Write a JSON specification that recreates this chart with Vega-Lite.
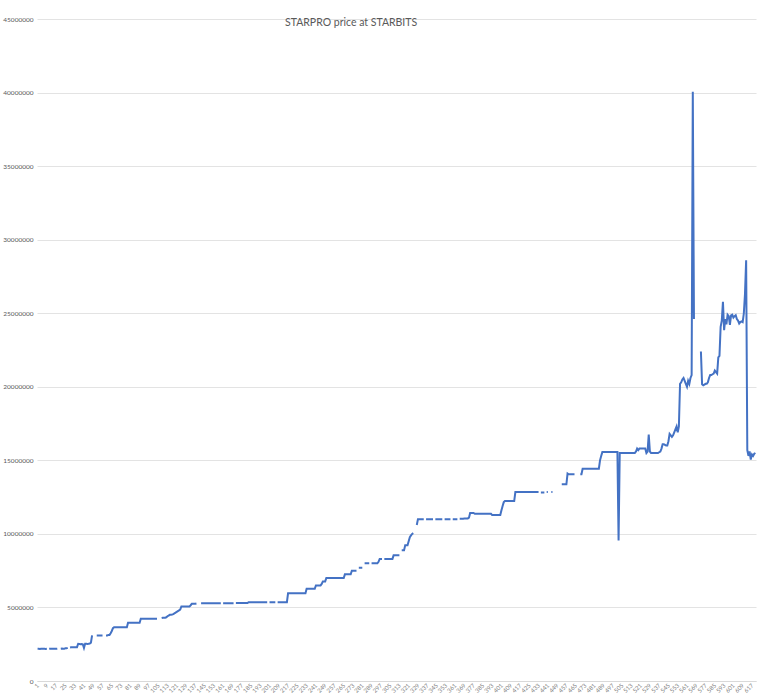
{
"$schema": "https://vega.github.io/schema/vega-lite/v6.json",
"width": 719,
"height": 662,
"autosize": {"type": "none"},
"padding": {"left": 37, "top": 19, "right": 12, "bottom": 16},
"background": "white",
"title": {"text": "STARPRO price at STARBITS", "anchor": "start", "frame": "group", "dx": 248, "offset": -12, "font": "Lato", "fontSize": 10.5, "fontWeight": "normal", "color": "#595959"},
"config": {"view": {"stroke": null}, "axis": {"labelFont": "Lato", "labelColor": "#595959"}},
"data": {"values": [
{"n":1,"p":2190000},{"n":2,"p":2190000},{"n":3,"p":2180000},{"n":4,"p":2190000},{"n":5,"p":2200000},{"n":6,"p":2190000},{"n":7,"p":2190000},{"n":8,"p":2180000},{"n":9,"p":2190000},{"n":10,"p":null},
{"n":11,"p":2190000},{"n":12,"p":2200000},{"n":13,"p":2190000},{"n":14,"p":2190000},{"n":15,"p":2200000},{"n":16,"p":2190000},{"n":17,"p":2190000},{"n":18,"p":2200000},{"n":19,"p":null},{"n":20,"p":null},
{"n":21,"p":2200000},{"n":22,"p":2210000},{"n":23,"p":2200000},{"n":24,"p":2200000},{"n":25,"p":2220000},{"n":26,"p":2220000},{"n":27,"p":2250000},{"n":28,"p":null},{"n":29,"p":2280000},{"n":30,"p":2300000},
{"n":31,"p":2300000},{"n":32,"p":2290000},{"n":33,"p":2300000},{"n":34,"p":2300000},{"n":35,"p":2300000},{"n":36,"p":2530000},{"n":37,"p":2520000},{"n":38,"p":2500000},{"n":39,"p":2520000},{"n":40,"p":2500000},
{"n":41,"p":2250000},{"n":42,"p":2530000},{"n":43,"p":2530000},{"n":44,"p":2520000},{"n":45,"p":2530000},{"n":46,"p":2550000},{"n":47,"p":2600000},{"n":48,"p":3100000},{"n":49,"p":null},{"n":50,"p":null},
{"n":51,"p":null},{"n":52,"p":3100000},{"n":53,"p":3100000},{"n":54,"p":3100000},{"n":55,"p":3100000},{"n":56,"p":3100000},{"n":57,"p":3100000},{"n":58,"p":null},{"n":59,"p":null},{"n":60,"p":3100000},
{"n":61,"p":3100000},{"n":62,"p":3120000},{"n":63,"p":3120000},{"n":64,"p":3250000},{"n":65,"p":3400000},{"n":66,"p":3590000},{"n":67,"p":3660000},{"n":68,"p":3660000},{"n":69,"p":3660000},{"n":70,"p":3660000},
{"n":71,"p":3660000},{"n":72,"p":3660000},{"n":73,"p":3660000},{"n":74,"p":3660000},{"n":75,"p":3660000},{"n":76,"p":3660000},{"n":77,"p":3660000},{"n":78,"p":3660000},{"n":79,"p":3960000},{"n":80,"p":3960000},
{"n":81,"p":3960000},{"n":82,"p":3960000},{"n":83,"p":3960000},{"n":84,"p":3960000},{"n":85,"p":3960000},{"n":86,"p":3960000},{"n":87,"p":3960000},{"n":88,"p":3960000},{"n":89,"p":3960000},{"n":90,"p":4230000},
{"n":91,"p":4230000},{"n":92,"p":4230000},{"n":93,"p":4230000},{"n":94,"p":4230000},{"n":95,"p":4230000},{"n":96,"p":4230000},{"n":97,"p":4230000},{"n":98,"p":4230000},{"n":99,"p":4230000},{"n":100,"p":4230000},
{"n":101,"p":4230000},{"n":102,"p":4230000},{"n":103,"p":4230000},{"n":104,"p":4230000},{"n":105,"p":null},{"n":106,"p":4250000},{"n":107,"p":null},{"n":108,"p":4280000},{"n":109,"p":4300000},{"n":110,"p":4300000},
{"n":111,"p":4300000},{"n":112,"p":4330000},{"n":113,"p":4400000},{"n":114,"p":4450000},{"n":115,"p":4500000},{"n":116,"p":4500000},{"n":117,"p":4520000},{"n":118,"p":4550000},{"n":119,"p":4600000},{"n":120,"p":4650000},
{"n":121,"p":4700000},{"n":122,"p":4750000},{"n":123,"p":4800000},{"n":124,"p":4850000},{"n":125,"p":5070000},{"n":126,"p":5070000},{"n":127,"p":5070000},{"n":128,"p":5070000},{"n":129,"p":5070000},{"n":130,"p":5070000},
{"n":131,"p":5070000},{"n":132,"p":5070000},{"n":133,"p":5150000},{"n":134,"p":5250000},{"n":135,"p":5250000},{"n":136,"p":5250000},{"n":137,"p":5250000},{"n":138,"p":5270000},{"n":139,"p":null},{"n":140,"p":null},
{"n":141,"p":null},{"n":142,"p":5290000},{"n":143,"p":5290000},{"n":144,"p":5290000},{"n":145,"p":5290000},{"n":146,"p":5290000},{"n":147,"p":5290000},{"n":148,"p":5290000},{"n":149,"p":5290000},{"n":150,"p":5290000},
{"n":151,"p":5290000},{"n":152,"p":5290000},{"n":153,"p":5290000},{"n":154,"p":5290000},{"n":155,"p":5290000},{"n":156,"p":5290000},{"n":157,"p":5290000},{"n":158,"p":5290000},{"n":159,"p":5290000},{"n":160,"p":null},
{"n":161,"p":5290000},{"n":162,"p":5290000},{"n":163,"p":5290000},{"n":164,"p":5290000},{"n":165,"p":5290000},{"n":166,"p":5290000},{"n":167,"p":5290000},{"n":168,"p":5290000},{"n":169,"p":5290000},{"n":170,"p":5290000},
{"n":171,"p":null},{"n":172,"p":5300000},{"n":173,"p":5300000},{"n":174,"p":5300000},{"n":175,"p":5300000},{"n":176,"p":5300000},{"n":177,"p":5300000},{"n":178,"p":5300000},{"n":179,"p":5300000},{"n":180,"p":5300000},
{"n":181,"p":5300000},{"n":182,"p":5300000},{"n":183,"p":5360000},{"n":184,"p":5360000},{"n":185,"p":5360000},{"n":186,"p":5360000},{"n":187,"p":5360000},{"n":188,"p":5360000},{"n":189,"p":5360000},{"n":190,"p":5360000},
{"n":191,"p":5360000},{"n":192,"p":5360000},{"n":193,"p":5360000},{"n":194,"p":5360000},{"n":195,"p":5360000},{"n":196,"p":5360000},{"n":197,"p":5360000},{"n":198,"p":5360000},{"n":199,"p":5360000},{"n":200,"p":null},
{"n":201,"p":5360000},{"n":202,"p":5360000},{"n":203,"p":5360000},{"n":204,"p":5360000},{"n":205,"p":5360000},{"n":206,"p":5360000},{"n":207,"p":null},{"n":208,"p":5360000},{"n":209,"p":5360000},{"n":210,"p":5360000},
{"n":211,"p":5360000},{"n":212,"p":5360000},{"n":213,"p":5360000},{"n":214,"p":5360000},{"n":215,"p":5360000},{"n":216,"p":5360000},{"n":217,"p":5970000},{"n":218,"p":5970000},{"n":219,"p":5970000},{"n":220,"p":5970000},
{"n":221,"p":5970000},{"n":222,"p":5970000},{"n":223,"p":5970000},{"n":224,"p":5970000},{"n":225,"p":5970000},{"n":226,"p":5970000},{"n":227,"p":5970000},{"n":228,"p":5970000},{"n":229,"p":5970000},{"n":230,"p":5970000},
{"n":231,"p":5970000},{"n":232,"p":5970000},{"n":233,"p":6270000},{"n":234,"p":6270000},{"n":235,"p":6270000},{"n":236,"p":6270000},{"n":237,"p":6270000},{"n":238,"p":6270000},{"n":239,"p":6270000},{"n":240,"p":6270000},
{"n":241,"p":6500000},{"n":242,"p":6500000},{"n":243,"p":6500000},{"n":244,"p":6500000},{"n":245,"p":6500000},{"n":246,"p":6600000},{"n":247,"p":6770000},{"n":248,"p":6770000},{"n":249,"p":6770000},{"n":250,"p":7000000},
{"n":251,"p":7000000},{"n":252,"p":7000000},{"n":253,"p":7000000},{"n":254,"p":7000000},{"n":255,"p":7000000},{"n":256,"p":7000000},{"n":257,"p":7000000},{"n":258,"p":7000000},{"n":259,"p":7000000},{"n":260,"p":7000000},
{"n":261,"p":7000000},{"n":262,"p":7000000},{"n":263,"p":7000000},{"n":264,"p":7000000},{"n":265,"p":7000000},{"n":266,"p":7250000},{"n":267,"p":7250000},{"n":268,"p":7250000},{"n":269,"p":7250000},{"n":270,"p":7250000},
{"n":271,"p":7250000},{"n":272,"p":7500000},{"n":273,"p":7500000},{"n":274,"p":7500000},{"n":275,"p":7500000},{"n":276,"p":7500000},{"n":277,"p":null},{"n":278,"p":7700000},{"n":279,"p":7700000},{"n":280,"p":7700000},
{"n":281,"p":7700000},{"n":282,"p":null},{"n":283,"p":8000000},{"n":284,"p":8000000},{"n":285,"p":8000000},{"n":286,"p":8000000},{"n":287,"p":8000000},{"n":288,"p":null},{"n":289,"p":8000000},{"n":290,"p":8000000},
{"n":291,"p":8000000},{"n":292,"p":8000000},{"n":293,"p":8000000},{"n":294,"p":8000000},{"n":295,"p":8100000},{"n":296,"p":8300000},{"n":297,"p":8300000},{"n":298,"p":8300000},{"n":299,"p":null},{"n":300,"p":8300000},
{"n":301,"p":8300000},{"n":302,"p":8300000},{"n":303,"p":8300000},{"n":304,"p":8300000},{"n":305,"p":8300000},{"n":306,"p":8300000},{"n":307,"p":8300000},{"n":308,"p":8540000},{"n":309,"p":8540000},{"n":310,"p":8540000},
{"n":311,"p":8540000},{"n":312,"p":8540000},{"n":313,"p":8540000},{"n":314,"p":null},{"n":315,"p":8880000},{"n":316,"p":8880000},{"n":317,"p":8880000},{"n":318,"p":9220000},{"n":319,"p":9220000},{"n":320,"p":9220000},
{"n":321,"p":9500000},{"n":322,"p":9780000},{"n":323,"p":9900000},{"n":324,"p":10000000},{"n":325,"p":10050000},{"n":326,"p":null},{"n":327,"p":null},{"n":328,"p":10600000},{"n":329,"p":11000000},{"n":330,"p":11000000},
{"n":331,"p":11000000},{"n":332,"p":11000000},{"n":333,"p":11000000},{"n":334,"p":11000000},{"n":335,"p":null},{"n":336,"p":11000000},{"n":337,"p":11000000},{"n":338,"p":11000000},{"n":339,"p":11000000},{"n":340,"p":11000000},
{"n":341,"p":11000000},{"n":342,"p":11000000},{"n":343,"p":null},{"n":344,"p":11000000},{"n":345,"p":11000000},{"n":346,"p":11000000},{"n":347,"p":11000000},{"n":348,"p":11000000},{"n":349,"p":11000000},{"n":350,"p":11000000},
{"n":351,"p":null},{"n":352,"p":11000000},{"n":353,"p":11000000},{"n":354,"p":11000000},{"n":355,"p":11000000},{"n":356,"p":11000000},{"n":357,"p":11000000},{"n":358,"p":null},{"n":359,"p":11000000},{"n":360,"p":11000000},
{"n":361,"p":11000000},{"n":362,"p":11000000},{"n":363,"p":11000000},{"n":364,"p":null},{"n":365,"p":11030000},{"n":366,"p":11030000},{"n":367,"p":11030000},{"n":368,"p":11030000},{"n":369,"p":11050000},{"n":370,"p":11050000},
{"n":371,"p":11050000},{"n":372,"p":11050000},{"n":373,"p":11100000},{"n":374,"p":11420000},{"n":375,"p":11420000},{"n":376,"p":11420000},{"n":377,"p":11420000},{"n":378,"p":11370000},{"n":379,"p":11370000},{"n":380,"p":11370000},
{"n":381,"p":11370000},{"n":382,"p":11370000},{"n":383,"p":11370000},{"n":384,"p":11370000},{"n":385,"p":11370000},{"n":386,"p":11370000},{"n":387,"p":11370000},{"n":388,"p":11370000},{"n":389,"p":11370000},{"n":390,"p":11370000},
{"n":391,"p":11370000},{"n":392,"p":11370000},{"n":393,"p":11280000},{"n":394,"p":11280000},{"n":395,"p":11280000},{"n":396,"p":11280000},{"n":397,"p":11280000},{"n":398,"p":11280000},{"n":399,"p":11280000},{"n":400,"p":11280000},
{"n":401,"p":11600000},{"n":402,"p":11900000},{"n":403,"p":12160000},{"n":404,"p":12230000},{"n":405,"p":12230000},{"n":406,"p":12230000},{"n":407,"p":12230000},{"n":408,"p":12230000},{"n":409,"p":12230000},{"n":410,"p":12230000},
{"n":411,"p":12230000},{"n":412,"p":12230000},{"n":413,"p":12840000},{"n":414,"p":12840000},{"n":415,"p":12840000},{"n":416,"p":12840000},{"n":417,"p":12840000},{"n":418,"p":12840000},{"n":419,"p":12840000},{"n":420,"p":12840000},
{"n":421,"p":12840000},{"n":422,"p":12840000},{"n":423,"p":12840000},{"n":424,"p":12840000},{"n":425,"p":12840000},{"n":426,"p":12840000},{"n":427,"p":12840000},{"n":428,"p":12840000},{"n":429,"p":12840000},{"n":430,"p":12840000},
{"n":431,"p":12840000},{"n":432,"p":12840000},{"n":433,"p":12840000},{"n":434,"p":null},{"n":435,"p":12820000},{"n":436,"p":12820000},{"n":437,"p":12820000},{"n":438,"p":12820000},{"n":439,"p":null},{"n":440,"p":12840000},
{"n":441,"p":12840000},{"n":442,"p":null},{"n":443,"p":null},{"n":444,"p":12840000},{"n":445,"p":12840000},{"n":446,"p":null},{"n":447,"p":null},{"n":448,"p":null},{"n":449,"p":null},{"n":450,"p":null},
{"n":451,"p":null},{"n":452,"p":null},{"n":453,"p":13370000},{"n":454,"p":13370000},{"n":455,"p":13370000},{"n":456,"p":13370000},{"n":457,"p":13370000},{"n":458,"p":14100000},{"n":459,"p":14050000},{"n":460,"p":14050000},
{"n":461,"p":14050000},{"n":462,"p":14050000},{"n":463,"p":14050000},{"n":464,"p":14050000},{"n":465,"p":null},{"n":466,"p":null},{"n":467,"p":null},{"n":468,"p":null},{"n":469,"p":14050000},{"n":470,"p":14050000},
{"n":471,"p":14430000},{"n":472,"p":14430000},{"n":473,"p":14430000},{"n":474,"p":14430000},{"n":475,"p":14430000},{"n":476,"p":14430000},{"n":477,"p":14430000},{"n":478,"p":14430000},{"n":479,"p":14430000},{"n":480,"p":14430000},
{"n":481,"p":14430000},{"n":482,"p":14430000},{"n":483,"p":14430000},{"n":484,"p":14430000},{"n":485,"p":14430000},{"n":486,"p":15000000},{"n":487,"p":15300000},{"n":488,"p":15560000},{"n":489,"p":15560000},{"n":490,"p":15560000},
{"n":491,"p":15560000},{"n":492,"p":15560000},{"n":493,"p":15560000},{"n":494,"p":15560000},{"n":495,"p":15560000},{"n":496,"p":15560000},{"n":497,"p":15560000},{"n":498,"p":15560000},{"n":499,"p":15560000},{"n":500,"p":15560000},
{"n":501,"p":15560000},{"n":502,"p":9560000},{"n":503,"p":15500000},{"n":504,"p":15500000},{"n":505,"p":15500000},{"n":506,"p":15500000},{"n":507,"p":15500000},{"n":508,"p":15500000},{"n":509,"p":15500000},{"n":510,"p":15500000},
{"n":511,"p":15500000},{"n":512,"p":15500000},{"n":513,"p":15500000},{"n":514,"p":15500000},{"n":515,"p":15500000},{"n":516,"p":15500000},{"n":517,"p":15600000},{"n":518,"p":15800000},{"n":519,"p":15700000},{"n":520,"p":15800000},
{"n":521,"p":15800000},{"n":522,"p":15800000},{"n":523,"p":15800000},{"n":524,"p":15800000},{"n":525,"p":15800000},{"n":526,"p":15500000},{"n":527,"p":15600000},{"n":528,"p":16750000},{"n":529,"p":15600000},{"n":530,"p":15500000},
{"n":531,"p":15500000},{"n":532,"p":15500000},{"n":533,"p":15500000},{"n":534,"p":15500000},{"n":535,"p":15500000},{"n":536,"p":15500000},{"n":537,"p":15550000},{"n":538,"p":15600000},{"n":539,"p":15800000},{"n":540,"p":16100000},
{"n":541,"p":16100000},{"n":542,"p":16050000},{"n":543,"p":16000000},{"n":544,"p":16000000},{"n":545,"p":16300000},{"n":546,"p":16800000},{"n":547,"p":16700000},{"n":548,"p":16600000},{"n":549,"p":16700000},{"n":550,"p":16900000},
{"n":551,"p":17100000},{"n":552,"p":17300000},{"n":553,"p":16900000},{"n":554,"p":17300000},{"n":555,"p":20200000},{"n":556,"p":20300000},{"n":557,"p":20500000},{"n":558,"p":20600000},{"n":559,"p":20400000},{"n":560,"p":20200000},
{"n":561,"p":20000000},{"n":562,"p":20400000},{"n":563,"p":20200000},{"n":564,"p":20600000},{"n":565,"p":20800000},{"n":566,"p":40050000},{"n":567,"p":24600000},{"n":568,"p":null},{"n":569,"p":null},{"n":570,"p":null},
{"n":571,"p":null},{"n":572,"p":null},{"n":573,"p":22400000},{"n":574,"p":20170000},{"n":575,"p":20100000},{"n":576,"p":20150000},{"n":577,"p":20200000},{"n":578,"p":20200000},{"n":579,"p":20300000},{"n":580,"p":20600000},
{"n":581,"p":20800000},{"n":582,"p":20800000},{"n":583,"p":20850000},{"n":584,"p":20900000},{"n":585,"p":21100000},{"n":586,"p":21000000},{"n":587,"p":20900000},{"n":588,"p":22000000},{"n":589,"p":22100000},{"n":590,"p":24070000},
{"n":591,"p":24500000},{"n":592,"p":25770000},{"n":593,"p":23850000},{"n":594,"p":24600000},{"n":595,"p":24250000},{"n":596,"p":24900000},{"n":597,"p":24800000},{"n":598,"p":24200000},{"n":599,"p":24860000},{"n":600,"p":24900000},
{"n":601,"p":24700000},{"n":602,"p":24800000},{"n":603,"p":24860000},{"n":604,"p":24600000},{"n":605,"p":24500000},{"n":606,"p":24300000},{"n":607,"p":24400000},{"n":608,"p":24450000},{"n":609,"p":24400000},{"n":610,"p":24980000},
{"n":611,"p":26300000},{"n":612,"p":28600000},{"n":613,"p":15700000},{"n":614,"p":15300000},{"n":615,"p":15600000},{"n":616,"p":15050000},{"n":617,"p":15400000},{"n":618,"p":15300000},{"n":619,"p":15450000},{"n":620,"p":15500000}
]},
"mark": {"type": "line", "color": "#4472C4", "strokeWidth": 2, "invalid": "break-paths-filter-domains", "clip": true},
"encoding": {
"x": {"field": "n", "type": "quantitative", "title": null,
"scale": {"domain": [0.5, 620.5], "nice": false, "zero": false},
"axis": {"values": [1,9,17,25,33,41,49,57,65,73,81,89,97,105,113,121,129,137,145,153,161,169,177,185,193,201,209,217,225,233,241,249,257,265,273,281,289,297,305,313,321,329,337,345,353,361,369,377,385,393,401,409,417,425,433,441,449,457,465,473,481,489,497,505,513,521,529,537,545,553,561,569,577,585,593,601,609,617],
"labelAngle": -45, "labelAlign": "right", "labelBaseline": "middle", "labelFontSize": 6, "labelColor": "#7f7f7f", "labelPadding": 3, "labelOverlap": false, "labelFlush": false, "ticks": false, "grid": false, "domain": true, "domainColor": "#d9d9d9", "domainWidth": 1}},
"y": {"field": "p", "type": "quantitative", "title": null,
"scale": {"domain": [0, 45000000], "nice": false},
"axis": {"values": [0,5000000,10000000,15000000,20000000,25000000,30000000,35000000,40000000,45000000], "format": "d", "labelFontSize": 6.5, "labelPadding": 4, "ticks": false, "domain": false, "grid": true, "gridColor": "#e3e3e3", "gridWidth": 1}}
}
}
